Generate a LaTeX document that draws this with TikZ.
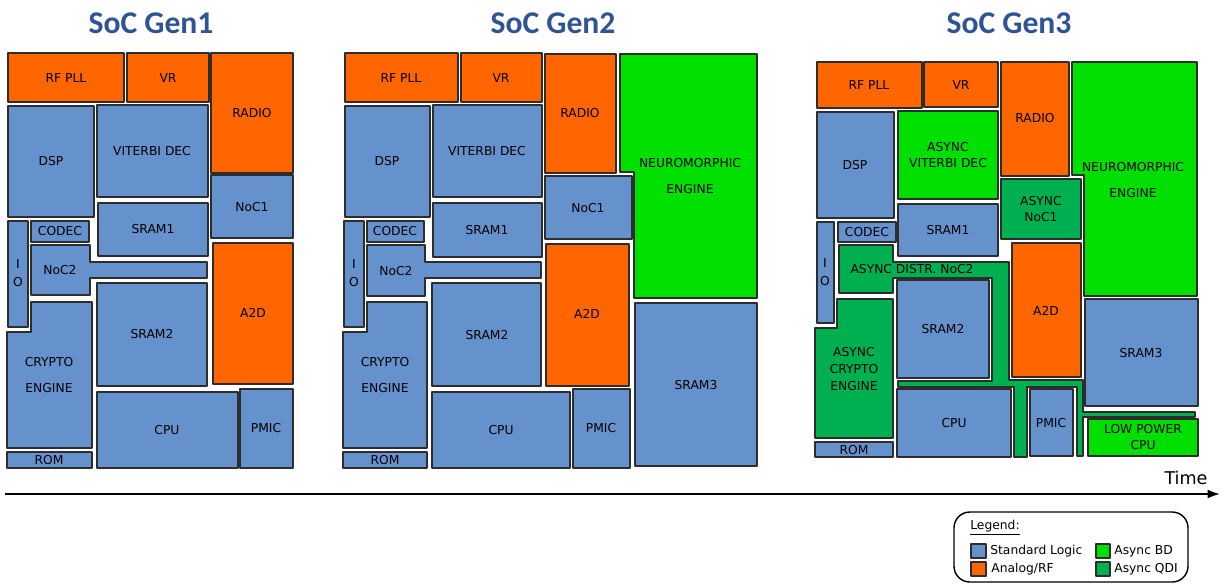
\documentclass[tikz,border=0pt]{standalone}
\usepackage{fontspec}
\setmainfont{DejaVu Sans}
\newfontfamily\titlefont{Carlito}
\usetikzlibrary{arrows.meta}
\definecolor{stdblue}{RGB}{101,145,204}
\definecolor{rforange}{RGB}{255,102,0}
\definecolor{bdgreen}{RGB}{0,224,0}
\definecolor{qdigreen}{RGB}{0,176,80}
\definecolor{titleblue}{RGB}{47,84,150}
\definecolor{edgegray}{RGB}{45,45,45}

\begin{document}
\begin{tikzpicture}[x=0.02cm,y=-0.02cm,line join=round,
  blk/.style={draw=edgegray,line width=0.9pt},
  std/.style={blk,fill=stdblue},
  rf/.style={blk,fill=rforange},
  bd/.style={blk,fill=bdgreen},
  qdi/.style={blk,fill=qdigreen},
  lbl/.style={font=\fontsize{7}{9.6}\selectfont,align=center,inner sep=0pt},
  gentitle/.style={font=\titlefont\bfseries\fontsize{18}{20}\selectfont,text=titleblue}]
  \useasboundingbox (0,0) rectangle (1225,583);

  % titles
  \node[gentitle] (gen1) at (151,23) {SoC Gen1};
  \node[gentitle] (gen2) at (553,23) {SoC Gen2};
  \node[gentitle] (gen3) at (1009,23) {SoC Gen3};

  % --- Gen1
  \draw[rf] (8,53) rectangle (124,102) node[lbl] (g1pll) at (66,78) {RF PLL};
  \draw[rf] (127,53) rectangle (209,102) node[lbl] (g1vr) at (168,78) {VR};
  \draw[rf] (211,53) rectangle (293,173) node[lbl] (g1radio) at (252,113) {RADIO};
  \draw[std] (8,106) rectangle (94,217) node[lbl] (g1dsp) at (51,161) {DSP};
  \draw[std] (97,105) rectangle (208,197) node[lbl] (g1vit) at (152,151) {VITERBI DEC};
  \draw[std] (98,203) rectangle (208,256) node[lbl] (g1sram1) at (153,229) {SRAM1};
  \draw[std] (211,175) rectangle (293,238) node[lbl] (g1noc1) at (252,207) {NoC1};
  \draw[std] (31,221) rectangle (89,242) node[lbl] (g1codec) at (60,231.5) {CODEC};
  \draw[std] (8,221) rectangle (28,327) node[lbl] (g1io) at (18,273) {I\\[0.6pt]O};
  \draw[std] (31,245) -- (90,245) -- (90,262) -- (207,262) -- (207,278) -- (90,278)
    -- (90,295) -- (31,295) -- cycle node[lbl] (g1noc2) at (60,270) {NoC2};
  \draw[rf] (213,243) rectangle (293,384) node[lbl] (g1a2d) at (253,313) {A2D};
  \draw[std] (97,283) rectangle (207,386) node[lbl] (g1sram2) at (152,334) {SRAM2};
  \draw[std] (7,332) -- (31,332) -- (31,302) -- (92,302) -- (92,448) -- (7,448) -- cycle
    node[lbl] (g1crypto) at (49,375) {CRYPTO\\[5pt]ENGINE};
  \draw[std] (7,452) rectangle (92,468) node[lbl] (g1rom) at (49,460) {ROM};
  \draw[std] (97,392) rectangle (238,468) node[lbl] (g1cpu) at (167,430) {CPU};
  \draw[std] (240,389) rectangle (293,468) node[lbl] (g1pmic) at (266,428) {PMIC};

  % --- Gen2
  \draw[rf] (345,53) rectangle (458,102) node[lbl] (g2pll) at (401,78) {RF PLL};
  \draw[rf] (461,53) rectangle (542,102) node[lbl] (g2vr) at (501,78) {VR};
  \draw[rf] (545,54) rectangle (616,173) node[lbl] (g2radio) at (580,113) {RADIO};
  \draw[bd] (620,54) -- (757,54) -- (757,298) -- (634,298) -- (634,172) -- (620,172) -- cycle
    node[lbl] (g2neuro) at (690,176) {NEUROMORPHIC\\[5pt]ENGINE};
  \draw[std] (345,106) rectangle (430,217) node[lbl] (g2dsp) at (387,161) {DSP};
  \draw[std] (433,105) rectangle (542,197) node[lbl] (g2vit) at (487,151) {VITERBI DEC};
  \draw[std] (433,203) rectangle (542,257) node[lbl] (g2sram1) at (487,230) {SRAM1};
  \draw[std] (545,176) rectangle (632,239) node[lbl] (g2noc1) at (588,208) {NoC1};
  \draw[std] (367,221) rectangle (424,242) node[lbl] (g2codec) at (395,231.5) {CODEC};
  \draw[std] (344,221) rectangle (364,327) node[lbl] (g2io) at (354,273) {I\\[0.6pt]O};
  \draw[std] (367,245) -- (425,245) -- (425,262) -- (541,262) -- (541,278) -- (425,278)
    -- (425,296) -- (367,296) -- cycle node[lbl] (g2noc2) at (396,271) {NoC2};
  \draw[rf] (546,244) rectangle (629,386) node[lbl] (g2a2d) at (587,314) {A2D};
  \draw[std] (432,283) rectangle (541,386) node[lbl] (g2sram2) at (487,335) {SRAM2};
  \draw[std] (635,303) rectangle (757,466) node[lbl] (g2sram3) at (696,385) {SRAM3};
  \draw[std] (343,332) -- (367,332) -- (367,302) -- (427,302) -- (427,448) -- (343,448) -- cycle
    node[lbl] (g2crypto) at (385,375) {CRYPTO\\[5pt]ENGINE};
  \draw[std] (343,452) rectangle (427,468) node[lbl] (g2rom) at (385,460) {ROM};
  \draw[std] (432,392) rectangle (570,468) node[lbl] (g2cpu) at (501,430) {CPU};
  \draw[std] (573,389) rectangle (630,468) node[lbl] (g2pmic) at (601,428) {PMIC};

  % --- Gen3
  \draw[rf] (817,62) rectangle (922,108) node[lbl] (g3pll) at (869,85) {RF PLL};
  \draw[rf] (924,62) rectangle (998,107) node[lbl] (g3vr) at (961,85) {VR};
  \draw[rf] (1001,62) rectangle (1069,176) node[lbl] (g3radio) at (1035,118) {RADIO};
  \draw[bd] (1072,62) -- (1197,62) -- (1197,296) -- (1084,296) -- (1084,175) -- (1072,175) -- cycle
    node[lbl] (g3neuro) at (1133,180) {NEUROMORPHIC\\[5pt]ENGINE};
  \draw[std] (817,112) rectangle (894,218) node[lbl] (g3dsp) at (855,165) {DSP};
  \draw[bd] (898,111) rectangle (998,199) node[lbl] (g3vit) at (948,155) {ASYNC\\VITERBI DEC};
  \draw[std] (898,204) rectangle (998,256) node[lbl] (g3sram1) at (948,230) {SRAM1};
  \draw[qdi] (1001,179) rectangle (1081,239) node[lbl] (g3noc1) at (1041,209) {ASYNC\\NoC1};
  \draw[std] (838,222) rectangle (896,242) node[lbl] (g3codec) at (867,232) {CODEC};
  \draw[std] (817,222) rectangle (834,323) node[lbl] (g3io) at (825,272) {I\\[0.6pt]O};
  \draw[qdi] (839,245) -- (893,245) -- (893,262) -- (1009,262) -- (1009,380) -- (1083,380)
    -- (1083,412) -- (1195,412) -- (1195,417) -- (1083,417) -- (1083,456) -- (1077,456)
    -- (1077,387) -- (1027,387) -- (1027,457) -- (1014,457) -- (1014,387) -- (898,387)
    -- (898,381) -- (992,381) -- (992,278) -- (893,278) -- (893,293) -- (839,293) -- cycle
    node[lbl] (g3noc2) at (912,269) {ASYNC DISTR. NoC2};
  \draw[rf] (1012,243) rectangle (1081,377) node[lbl] (g3a2d) at (1046,311) {A2D};
  \draw[std] (897,280) rectangle (989,378) node[lbl] (g3sram2) at (943,329) {SRAM2};
  \draw[std] (1085,299) rectangle (1198,406) node[lbl] (g3sram3) at (1141,353) {SRAM3};
  \draw[qdi] (815,328) -- (837,328) -- (837,299) -- (893,299) -- (893,438) -- (815,438) -- cycle
    node[lbl] (g3crypto) at (854,369) {ASYNC\\CRYPTO\\ENGINE};
  \draw[std] (815,442) rectangle (893,457) node[lbl] (g3rom) at (854,450) {ROM};
  \draw[std] (897,389) rectangle (1011,457) node[lbl] (g3cpu) at (954,423) {CPU};
  \draw[std] (1030,389) rectangle (1073,456) node[lbl] (g3pmic) at (1051,423) {PMIC};
  \draw[bd] (1088,419) rectangle (1198,456) node[lbl] (g3lpcpu) at (1143,437) {LOW POWER\\CPU};

  % time axis
  \coordinate (t0) at (5,494);
  \coordinate (t1) at (1220,494);
  \draw[line width=1pt,-{Latex[length=7pt,width=5pt]}] (t0) -- (t1);
  \node[font=\fontsize{10}{12}\selectfont] (time) at (1186,478) {Time};

  % legend
  \draw[line width=0.8pt,rounded corners=9pt] (954,512) rectangle (1188,582);
  \node[lbl,anchor=west] (leg) at (970,528) {\underline{Legend:}};
  \draw[std] (971,544) rectangle (986,558);
  \node[lbl,anchor=west] (legstd) at (990,551) {Standard Logic};
  \draw[rf] (971,562) rectangle (986,576);
  \node[lbl,anchor=west] (legrf) at (991,569) {Analog/RF};
  \draw[bd] (1096,544) rectangle (1110,558);
  \node[lbl,anchor=west] (legbd) at (1114,551) {Async BD};
  \draw[qdi] (1096,562) rectangle (1110,576);
  \node[lbl,anchor=west] (legqdi) at (1114,569) {Async QDI};
\end{tikzpicture}
\end{document}
